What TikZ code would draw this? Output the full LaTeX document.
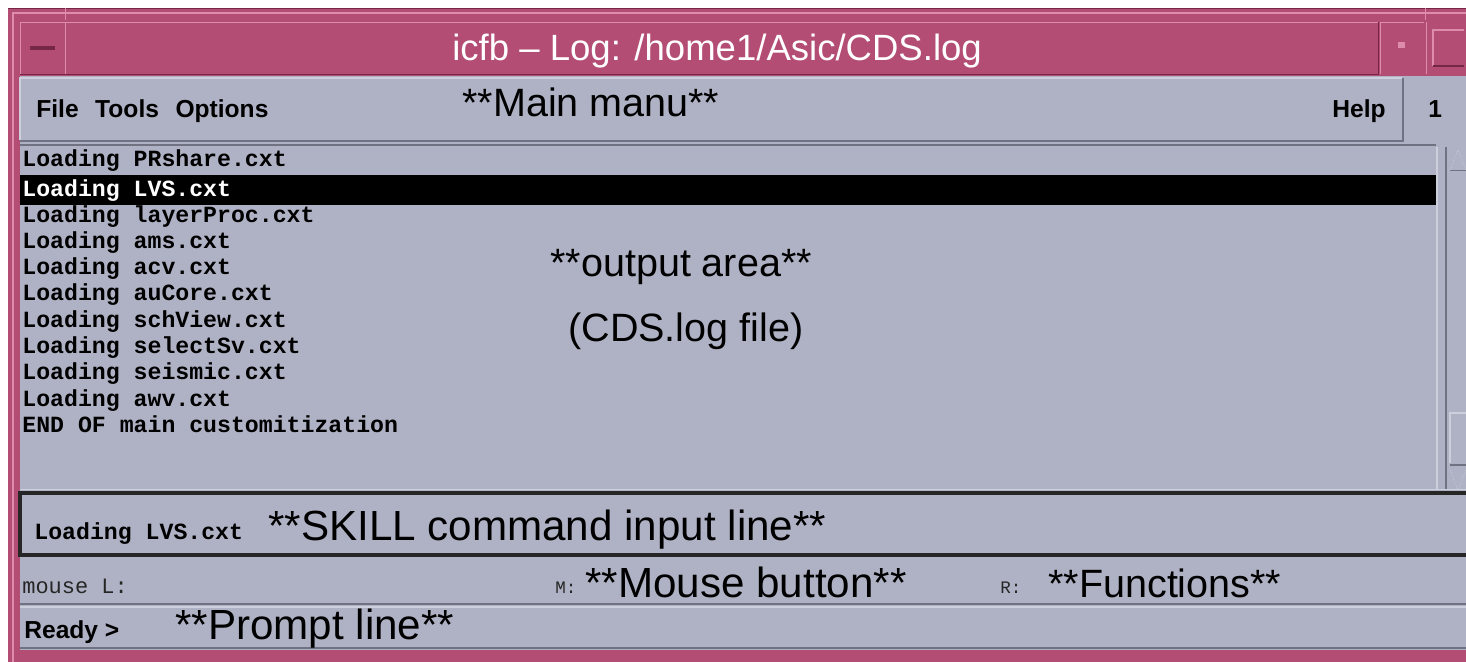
\documentclass[tikz,border=0pt]{standalone}
\usepackage{fontspec}
\setmainfont{Liberation Sans}
\newfontfamily\logfont{Liberation Mono}
\definecolor{winpink}{RGB}{180,77,116}
\definecolor{pinklight}{RGB}{222,140,172}
\definecolor{pinkdark}{RGB}{118,38,70}
\definecolor{wingrey}{RGB}{175,178,196}
\definecolor{greylight}{RGB}{205,208,220}
\definecolor{greydark}{RGB}{112,114,130}

\begin{document}
\begin{tikzpicture}[x=0.02cm,y=-0.02cm,
			note/.style={font=\fontsize{22.5}{24}\selectfont,inner sep=0pt,anchor=base west},
			bignote/.style={note,font=\fontsize{24}{26}\selectfont},
			logline/.style={font=\logfont\bfseries\fontsize{13.2}{14}\selectfont,inner sep=0pt,anchor=base west},
			thinlog/.style={font=\logfont\fontsize{12.5}{14}\selectfont,text=black!85,inner sep=0pt,anchor=base west},
			menu/.style={font=\bfseries\fontsize{14}{16}\selectfont,inner sep=0pt,anchor=base west}]
			\useasboundingbox (0,0) rectangle (1466,662);
			% window frame
			\fill[winpink] (8,8) rectangle (1466,662);
			\draw[pinklight,line width=1.5pt] (13,662) -- (13,13) -- (1466,13);
			\draw[pinkdark] (8,8) -- (1466,8);
			\draw[pinklight] (65,8) -- (65,20) (1425,8) -- (1425,20);
			% title bar
			\fill[winpink] (20,22) rectangle (1378,74);
			\draw[pinklight] (20,74) -- (20,22) -- (1378,22);
			\draw[pinkdark] (20,74) -- (1378,74) -- (1378,22);
			\draw[pinklight] (65,22) -- (65,74);
			\draw[pinkdark,line width=2pt] (30,48) -- (55,48);
			\draw[pinklight] (1380,74) -- (1380,22) -- (1424,22);
			\fill[pinklight] (1398,42) rectangle (1405,48);
			\draw[pinklight] (1426,74) -- (1426,22);
			\draw[pinklight,line width=1pt] (1433,66) -- (1433,30) -- (1464,30);
			\draw[pinkdark,line width=1pt] (1433,66) -- (1464,66);
			\node[text=white,font=\fontsize{20.8}{22}\selectfont,inner sep=0pt,anchor=base west] (title) at (452,61) {icfb -- Log: /home1/Asic/CDS.log};
			% grey body
			\fill[wingrey] (20,76) rectangle (1466,650);
			\draw[greylight,line width=1pt] (20,140) -- (20,78) -- (1402,78);
			\draw[greydark,line width=1.5pt] (20,141) -- (1403,141) -- (1403,78);
			\node[menu] (file) at (36,118) {File};
			\node[menu] (tools) at (file.base east) [xshift=9pt] {Tools};
			\node[menu] (options) at (tools.base east) [xshift=9pt] {Options};
			\node[menu] (help) at (1332,118) {Help};
			\node[menu] (one) at (1428,118) {1};
			\node[note] (mainmenu) at (462,117) {**Main manu**};
			% output area
			\draw[greydark,line width=1pt] (20,145) -- (1436,145);
			\fill[black] (20,175) rectangle (1436,205);
			\draw[greylight,line width=1pt] (1437,147) -- (1437,490);
			\draw[greydark,line width=1pt] (1446,147) -- (1446,490);
			\draw[greylight,densely dotted] (1450,170) -- (1458,150) -- (1466,170);
			\draw[greydark] (1450,170) -- (1466,170);
			\draw[greylight,line width=1pt] (1450,463) -- (1450,413) -- (1466,413);
			\draw[greydark,line width=1pt] (1450,465) -- (1466,465);
			\draw[greylight,densely dotted] (1450,470) -- (1458,490) -- (1466,470);
			\draw[greylight] (20,489) -- (1466,489);
			\node[logline] (l1) at (22,167) {Loading PRshare.cxt};
			\node[logline,text=white] (l2) at (22,196) {Loading LVS.cxt};
			\node[logline] (l3) at (22,222) {Loading layerProc.cxt};
			\node[logline] (l4) at (22,248) {Loading ams.cxt};
			\node[logline] (l5) at (22,274) {Loading acv.cxt};
			\node[logline] (l6) at (22,300) {Loading auCore.cxt};
			\node[logline] (l7) at (22,327) {Loading schView.cxt};
			\node[logline] (l8) at (22,353) {Loading selectSv.cxt};
			\node[logline] (l9) at (22,379) {Loading seismic.cxt};
			\node[logline] (l10) at (22,406) {Loading awv.cxt};
			\node[logline] (l11) at (22,432) {END OF main customitization};
			\node[note] (outarea) at (550,276) {**output area**};
			\node[note] (cdslog) at (568,341) {(CDS.log file)};
			% command input line
			\draw[black!85,line width=2pt] (1470,493) -- (20,493) -- (20,555) -- (1470,555);
			\node[logline] (cmd) at (34,539) {Loading LVS.cxt};
			\node[bignote] (skill) at (268,540) {**SKILL command input line**};
			% mouse line
			\draw[greydark,line width=1pt] (20,604) -- (1466,604);
			\node[thinlog] (mousel) at (22,593) {mouse L:};
			\node[thinlog,font=\logfont\fontsize{10}{12}\selectfont] (mousem) at (555,593) {M:};
			\node[bignote] (mbutton) at (585,597) {**Mouse button**};
			\node[thinlog,font=\logfont\fontsize{10}{12}\selectfont] (mouser) at (1000,593) {R:};
			\node[note] (funcs) at (1048,597) {**Functions**};
			% prompt line
			\draw[greylight,line width=1pt] (20,607) -- (1466,607);
			\draw[greydark,line width=1pt] (20,648) -- (1466,648);
			\node[menu] (ready) at (24,638) {Ready >};
			\node[bignote] (prompt) at (175,639) {**Prompt line**};
		\end{tikzpicture}
\end{document}
